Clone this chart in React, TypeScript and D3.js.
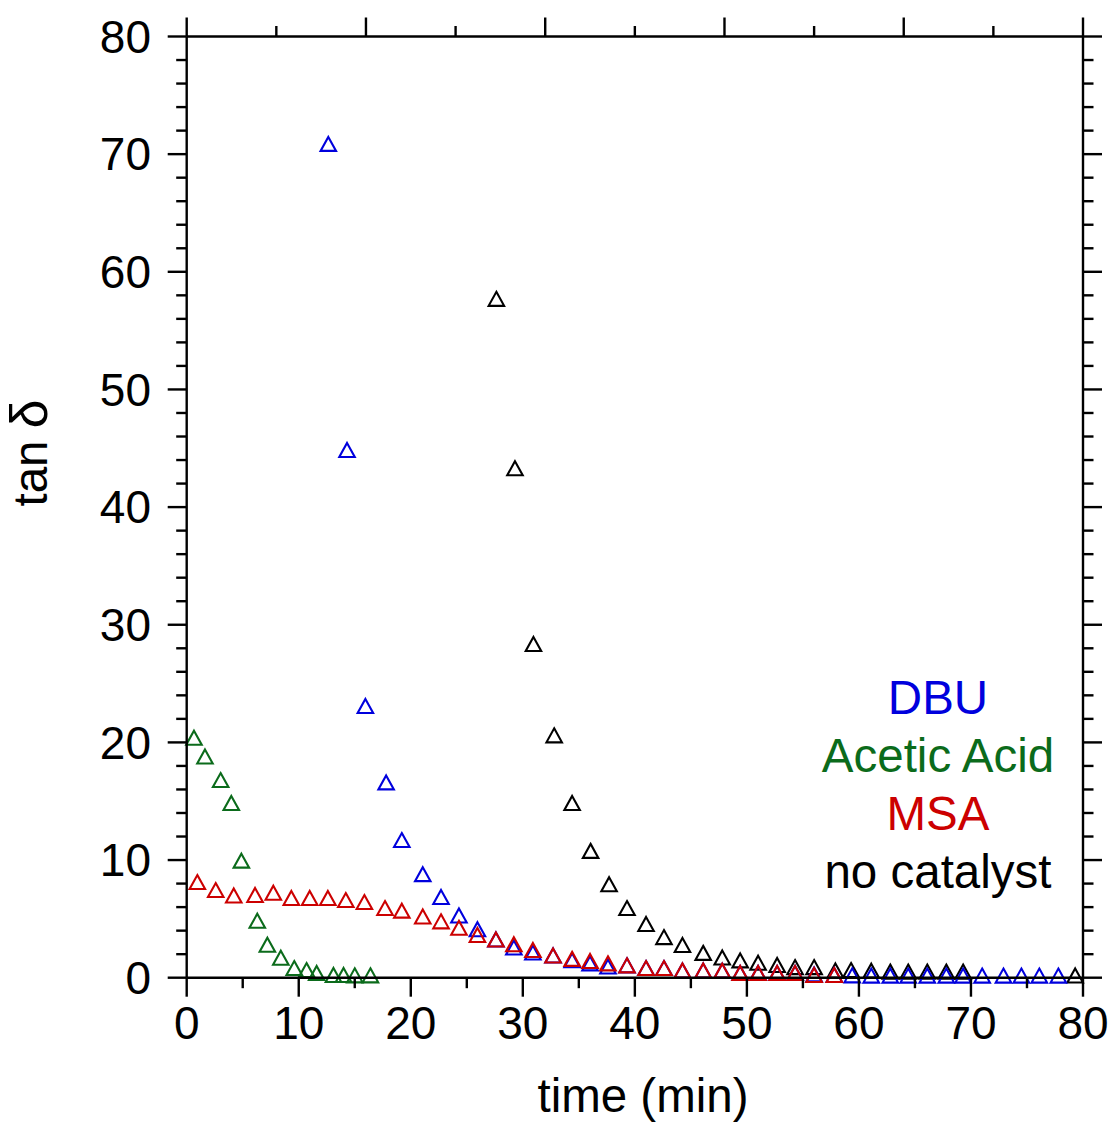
import React from "react";
import * as d3 from "d3";

// ---- Data (time in min, tan delta) ----
const dbuTime = [12.64, 14.31, 15.95, 17.8, 19.2, 21.07, 22.7, 24.3, 25.95, 27.6, 29.2, 30.9, 32.7, 34.4, 36.0, 37.6, 39.3, 41.0, 42.6, 44.25, 46.1, 47.8, 49.4, 51.0, 52.7, 54.3, 56.0, 57.8, 59.4, 61.1, 62.8, 64.4, 66.1, 67.8, 69.3, 71.0, 72.9, 74.5, 76.1, 77.8];
const dbuTan = [70.87, 44.85, 23.1, 16.6, 11.7, 8.8, 6.86, 5.29, 4.12, 3.25, 2.57, 2.14, 1.89, 1.49, 1.22, 0.95, 1.05, 0.82, 0.82, 0.61, 0.61, 0.6, 0.4, 0.4, 0.4, 0.4, 0.28, 0.23, 0.2, 0.18, 0.18, 0.18, 0.18, 0.18, 0.18, 0.18, 0.18, 0.18, 0.18, 0.18];

const aceticTime = [0.65, 1.63, 3.03, 3.98, 4.88, 6.3, 7.2, 8.4, 9.6, 10.7, 11.6, 13.1, 14.0, 15.0, 16.4];
const aceticTan = [20.4, 18.8, 16.8, 14.85, 9.95, 4.84, 2.8, 1.7, 0.82, 0.65, 0.4, 0.23, 0.23, 0.2, 0.2];

const msaTime = [0.95, 2.59, 4.2, 6.1, 7.73, 9.34, 10.98, 12.6, 14.2, 15.86, 17.7, 19.2, 21.07, 22.7, 24.3, 25.95, 27.6, 29.2, 30.9, 32.7, 34.4, 36.0, 37.6, 39.3, 41.0, 42.6, 44.25, 46.1, 47.8, 49.4, 51.0, 52.7, 54.3, 56.0, 57.8];
const msaTan = [8.13, 7.45, 6.99, 7.03, 7.22, 6.78, 6.78, 6.78, 6.6, 6.43, 5.92, 5.7, 5.2, 4.79, 4.24, 3.63, 3.25, 2.84, 2.36, 1.89, 1.6, 1.42, 1.22, 1.05, 0.82, 0.82, 0.61, 0.61, 0.6, 0.4, 0.4, 0.4, 0.4, 0.23, 0.23];

const noCatTime = [27.64, 29.3, 30.95, 32.8, 34.4, 36.05, 37.7, 39.3, 41.0, 42.6, 44.25, 46.1, 47.8, 49.4, 51.0, 52.7, 54.3, 56.0, 57.9, 59.3, 61.1, 62.8, 64.4, 66.1, 67.8, 69.3, 79.3];
const noCatTan = [57.7, 43.3, 28.37, 20.6, 14.85, 10.78, 7.94, 5.92, 4.57, 3.45, 2.78, 2.11, 1.72, 1.47, 1.27, 1.08, 0.9, 0.9, 0.61, 0.65, 0.6, 0.52, 0.52, 0.52, 0.52, 0.52, 0.19];

const xMajorTicks = [0, 10, 20, 30, 40, 50, 60, 70, 80];
const xMinorTicks = [5, 15, 25, 35, 45, 55, 65, 75];
const yMajorTicks = [0, 10, 20, 30, 40, 50, 60, 70, 80];
const yMinorTicks = [2, 4, 6, 8, 12, 14, 16, 18, 22, 24, 26, 28, 32, 34, 36, 38, 42, 44, 46, 48, 52, 54, 56, 58, 62, 64, 66, 68, 72, 74, 76, 78];
const topMajorTicks = [0, 16, 32, 48, 64, 80];
const topMinorTicks = [8, 24, 40, 56, 72];

const seriesNames = ["DBU", "Acetic Acid", "MSA", "no catalyst"];
const seriesColors = ["#0000dd", "#0b6b1b", "#cc0000", "#000000"];

const FONT = "'Liberation Sans', Arial, sans-serif";

export default function App() {
  const x = d3.scaleLinear().domain([0, 80]).range([186.7, 1083]);
  const y = d3.scaleLinear().domain([0, 80]).range([977.7, 36.5]);
  const [x0, x1] = x.range();
  const [y0, y1] = y.range();

  const triW = 15.5;
  const triH = 14;
  const tri = `M0,${-triH / 2}L${triW / 2},${triH / 2}L${-triW / 2},${triH / 2}Z`;

  // draw order: no catalyst, DBU, Acetic Acid, MSA
  const series = [
    { t: noCatTime, v: noCatTan, c: seriesColors[3] },
    { t: dbuTime, v: dbuTan, c: seriesColors[0] },
    { t: aceticTime, v: aceticTan, c: seriesColors[1] },
    { t: msaTime, v: msaTan, c: seriesColors[2] },
  ];

  const axisW = 2.4;
  const major = 19;
  const minor = 10.5;

  return (
    <svg
      width={1112}
      height={1122}
      style={{ position: "absolute", left: 0, top: 0, background: "#fff" }}
      fontFamily={FONT}
    >
      <rect x={0} y={0} width={1112} height={1122} fill="#fff" />
      {/* markers */}
      {series.map((s, si) => (
        <g key={si}>
          {s.t.map((t, i) => (
            <path
              key={i}
              d={tri}
              transform={`translate(${x(t)},${y(s.v[i])})`}
              fill="none"
              stroke={s.c}
              strokeWidth={2.1}
              strokeLinejoin="miter"
            />
          ))}
        </g>
      ))}

      {/* frame */}
      <g stroke="#000" strokeWidth={axisW} fill="none">
        <line x1={x0} x2={x1} y1={y0} y2={y0} />
        <line x1={x0} x2={x1} y1={y1} y2={y1} />
        <line x1={x0} x2={x0} y1={y0} y2={y1} />
        <line x1={x1} x2={x1} y1={y0} y2={y1} />
        {xMajorTicks.map((t) => (
          <line key={"bM" + t} x1={x(t)} x2={x(t)} y1={y0} y2={y0 + major} />
        ))}
        {xMinorTicks.map((t) => (
          <line key={"bm" + t} x1={x(t)} x2={x(t)} y1={y0} y2={y0 + minor} />
        ))}
        {topMajorTicks.map((t) => (
          <line key={"tM" + t} x1={x(t)} x2={x(t)} y1={y1} y2={y1 - major} />
        ))}
        {topMinorTicks.map((t) => (
          <line key={"tm" + t} x1={x(t)} x2={x(t)} y1={y1} y2={y1 - minor} />
        ))}
        {yMajorTicks.map((t) => (
          <line key={"lM" + t} x1={x0} x2={x0 - major} y1={y(t)} y2={y(t)} />
        ))}
        {yMinorTicks.map((t) => (
          <line key={"lm" + t} x1={x0} x2={x0 - minor} y1={y(t)} y2={y(t)} />
        ))}
        {yMajorTicks.map((t) => (
          <line key={"rM" + t} x1={x1} x2={x1 + major} y1={y(t)} y2={y(t)} />
        ))}
        {yMinorTicks.map((t) => (
          <line key={"rm" + t} x1={x1} x2={x1 + minor} y1={y(t)} y2={y(t)} />
        ))}
      </g>

      {/* tick labels */}
      <g fontSize={46} fill="#000">
        {xMajorTicks.map((t) => (
          <text key={"xl" + t} x={x(t)} y={1039} textAnchor="middle">
            {t}
          </text>
        ))}
        {yMajorTicks.map((t) => (
          <text key={"yl" + t} x={151} y={y(t)} dy="0.355em" textAnchor="end">
            {t}
          </text>
        ))}
      </g>

      {/* axis titles */}
      <text x={643} y={1112} fontSize={47.5} textAnchor="middle">
        time (min)
      </text>
      <text
        transform={`translate(47,453) rotate(-90)`}
        fontSize={47.5}
        textAnchor="middle"
      >
        tan
        <tspan dx={12} fontSize={52}>δ</tspan>
      </text>

      {/* legend */}
      {seriesNames.map((n, i) => (
        <text
          key={n}
          x={938}
          y={714 + i * 58}
          fontSize={47.5}
          textAnchor="middle"
          fill={seriesColors[i]}
        >
          {n}
        </text>
      ))}
    </svg>
  );
}
